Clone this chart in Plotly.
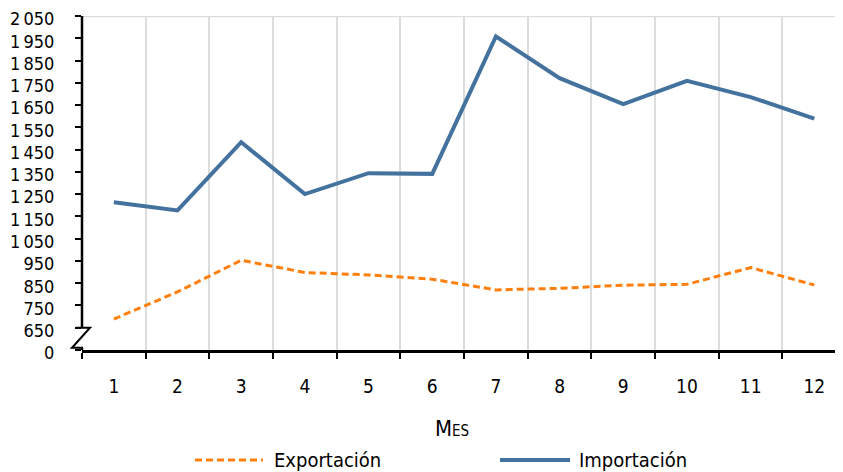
import plotly.graph_objects as go

meses = list(range(1, 13))
exportacion = [689, 811, 953, 898, 887, 868, 820, 827, 841, 845, 920, 842]
importacion = [1214, 1177, 1483, 1250, 1344, 1341, 1958, 1771, 1654, 1759, 1686, 1589]
ytick_vals = [550] + list(range(650, 2051, 100))
ytick_text = ["0"] + [f"{v:,}".replace(",", "\u202f") for v in range(650, 2051, 100)]
series_names = ["Exportación", "Importación"]
series_colors = ["#ff7f0e", "#44729f"]

# the page places the figure 8px from the top-left corner (body margin)
OFF = 8
W, H = 843, 472
ML, MR, MT, MB = 74, 0, 8, 130
PW = W - ML - MR
PH = H - MT - MB
PLOT_LEFT = ML + OFF          # screen x of the plot's left edge
PLOT_BOTTOM = H - MB + OFF    # screen y of the plot's bottom edge
UNIT = 63.68                  # px per month
FONT = "DejaVu Sans Condensed, DejaVu Sans, sans-serif"

def px(xs):
    return (xs - PLOT_LEFT) / PW

def py(ys):
    return (PLOT_BOTTOM - ys) / PH

fig = go.Figure()
fig.add_trace(go.Scatter(x=meses, y=exportacion, mode="lines", name=series_names[0],
                         line=dict(color=series_colors[0], width=3, dash="7px,4px"),
                         showlegend=False))
fig.add_trace(go.Scatter(x=meses, y=importacion, mode="lines", name=series_names[1],
                         line=dict(color=series_colors[1], width=4),
                         showlegend=False))

fig.update_layout(
    width=W, height=H,
    margin=dict(l=ML, r=MR, t=MT, b=MB),
    plot_bgcolor="white", paper_bgcolor="white",
    font=dict(family=FONT, size=19, color="black"),
    xaxis=dict(range=[0.5, 0.5 + PW / UNIT], tickvals=meses, ticktext=[str(m) for m in meses],
               showgrid=False, ticks="", showline=True, linecolor="black", linewidth=2.5,
               zeroline=False, ticklabelstandoff=17, tickfont=dict(size=19), automargin=False,
               minor=dict(tickvals=[i + 0.5 for i in range(0, 12)], ticks="outside", ticklen=6,
                          tickwidth=2, tickcolor="black", showgrid=True,
                          gridcolor="#dcdcdc", gridwidth=2)),
    yaxis=dict(range=[550, 2050], tickvals=ytick_vals, ticktext=ytick_text,
               showgrid=False, showline=False, zeroline=False, ticks="outside",
               ticklen=6, tickwidth=2, tickcolor="black", ticklabelstandoff=17,
               ticklabelshift=3,
               tickfont=dict(size=18), automargin=False, ticklabeloverflow="allow"),
)

# top border gridline
fig.add_shape(type="line", xref="paper", yref="y", x0=0, x1=1, y0=2050, y1=2050,
              line=dict(color="#dcdcdc", width=2.5), layer="below")
# y axis line with break
fig.add_shape(type="line", xref="paper", yref="y", x0=0, x1=0, y0=650, y1=2050,
              line=dict(color="black", width=2.5))
fig.add_shape(type="path", xref="paper", yref="y",
              path=f"M {px(76)},650 L {px(90)},650 L {px(72)},560 L {px(83)},560",
              line=dict(color="black", width=2))
fig.add_shape(type="line", xref="paper", yref="y", x0=0, x1=0, y0=550, y1=560,
              line=dict(color="black", width=2.5))

# legend (drawn manually to match long line samples)
leg_y = py(460)
leg_items = [(195, 263, 272, 3, "7px,4px"), (500, 570, 577, 4, "solid")]
for (x0, x1, xt, lw, dash), name, color in zip(leg_items, series_names, series_colors):
    fig.add_shape(type="line", xref="paper", yref="paper", x0=px(x0), x1=px(x1),
                  y0=leg_y, y1=leg_y, line=dict(color=color, width=lw, dash=dash))
    fig.add_annotation(text=name, xref="paper", yref="paper", x=px(xt), y=leg_y,
                       showarrow=False, xanchor="left", yanchor="middle",
                       font=dict(size=20))

fig.add_annotation(text="Mes", xref="paper", yref="paper", x=px(452),
                   y=py(428), showarrow=False,
                   font=dict(size=22, variant="small-caps"), xanchor="center", yanchor="middle")

fig.write_html("out.html")
